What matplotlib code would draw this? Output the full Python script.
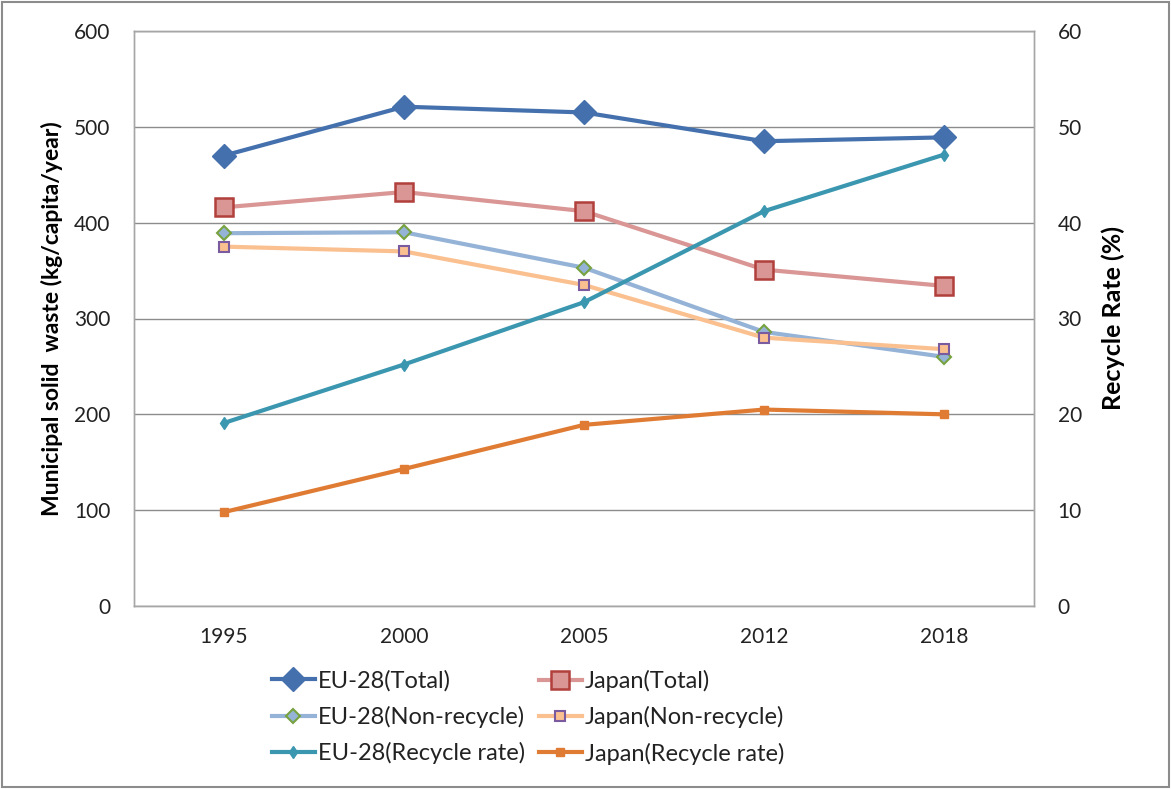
import matplotlib
matplotlib.use("Agg")
import matplotlib.pyplot as plt
from matplotlib.patches import Rectangle

plt.rcParams['font.family'] = ['Lato', 'DejaVu Sans']

years = ["1995", "2000", "2005", "2012", "2018"]
eu_total = [470, 521, 515, 485, 489]
japan_total = [416, 432, 412, 351, 334]
eu_nonrecycle = [389, 390, 353, 286, 260]
japan_nonrecycle = [375, 370, 335, 280, 268]
eu_rate = [19.1, 25.2, 31.7, 41.2, 47.1]
japan_rate = [9.8, 14.3, 18.9, 20.5, 20.0]

W, H = 1171, 789
fig = plt.figure(figsize=(W / 100, H / 100), dpi=100)
fig.patches.append(Rectangle((0.002, 0.002), 0.996, 0.996, transform=fig.transFigure,
                             fill=False, edgecolor='#8c8c8c', linewidth=1.5))
ax = fig.add_axes([134 / W, 1 - 606 / H, 900 / W, 575 / H])
ax2 = ax.twinx()

x = list(range(len(years)))

l1, = ax.plot(x, eu_total, color='#4471AD', lw=3, marker='D', ms=12,
              mfc='#4471AD', mec='#4471AD', label='EU-28(Total)', zorder=5)
l2, = ax.plot(x, japan_total, color='#D99694', lw=3, marker='s', ms=13,
              mfc='#D99694', mec='#B13F3C', mew=1.8, label='Japan(Total)', zorder=5)
l3, = ax.plot(x, eu_nonrecycle, color='#95B3D7', lw=3, marker='D', ms=7,
              mfc='#95B3D7', mec='#77A23F', mew=1.5, label='EU-28(Non-recycle)', zorder=5)
l4, = ax.plot(x, japan_nonrecycle, color='#FAC090', lw=3, marker='s', ms=7,
              mfc='#FAC090', mec='#7A5BA0', mew=1.5, label='Japan(Non-recycle)', zorder=5)
l5, = ax2.plot(x, eu_rate, color='#3B97B0', lw=3, marker='d', ms=6,
               mfc='#3B97B0', mec='#3B97B0', label='EU-28(Recycle rate)', zorder=5)
l6, = ax2.plot(x, japan_rate, color='#E07B33', lw=3, marker='s', ms=6,
               mfc='#E07B33', mec='#E07B33', label='Japan(Recycle rate)', zorder=5)

ax.set_xlim(-0.5, 4.5)
ax.set_ylim(0, 600)
ax2.set_ylim(0, 60)
ax.set_yticks(range(0, 601, 100))
ax2.set_yticks(range(0, 61, 10))
ax.set_xticks(x)
ax.set_xticklabels(years)
ax.grid(axis='y', color='#8c8c8c', lw=1)
ax.set_axisbelow(True)
for a in (ax, ax2):
    for s in a.spines.values():
        s.set_color('#a6a6a6')
        s.set_linewidth(1)
    a.tick_params(length=0, labelsize=15, colors='#222222')
ax.tick_params(axis='y', pad=17)
ax2.tick_params(axis='y', pad=17)
ax.tick_params(axis='x', pad=15)

ax.set_ylabel('Municipal solid  waste (kg/capita/year)', fontsize=16.5, fontweight='bold', labelpad=8)
ax2.set_ylabel('Recycle Rate (%)', fontsize=18, fontweight='bold', labelpad=14)

leg_kw = dict(loc='upper left', frameon=False, fontsize=17, handlelength=1.8,
              labelspacing=0.6, handletextpad=0.15, borderpad=0, borderaxespad=0)
col1 = [l1, l3, l5]
col2 = [l2, l4, l6]
leg1 = fig.legend(handles=col1, labels=[h.get_label() for h in col1],
                  bbox_to_anchor=(272 / W, 1 - 670 / H), **leg_kw)
leg2 = fig.legend(handles=col2, labels=[h.get_label() for h in col2],
                  bbox_to_anchor=(539 / W, 1 - 670 / H), **leg_kw)
for leg in (leg1, leg2):
    for t in leg.get_texts():
        t.set_color('#222222')

fig.savefig('out.png', dpi=100)
